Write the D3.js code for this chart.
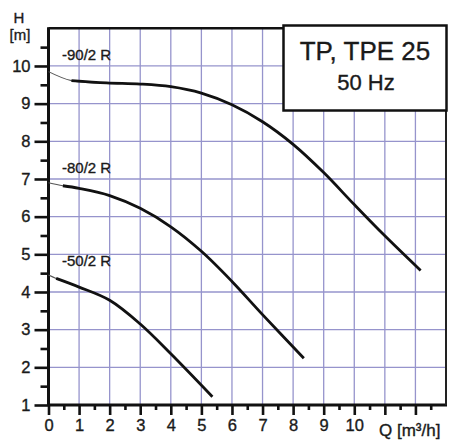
<!DOCTYPE html>
<html><head><meta charset="utf-8">
<script src="https://cdn.jsdelivr.net/npm/d3@7"></script>
<style>body{margin:0;background:#fff}svg{display:block}text{font-family:"Liberation Sans",Arial,sans-serif;fill:#1a1a1a;stroke:#1a1a1a;stroke-width:0.35px}</style>
</head><body><svg id="c" width="449" height="441"></svg>
<script>
// Data
const q90 = [0, 0.75, 1.9, 3.0, 4.0, 5.0, 6.0, 7.0, 8.0, 9.0, 10.0, 11.0, 12.17];
const h90 = [9.85, 9.61, 9.55, 9.52, 9.45, 9.28, 8.97, 8.52, 7.92, 7.17, 6.32, 5.49, 4.57];
const q80 = [0, 0.47, 1.0, 2.0, 3.0, 4.0, 5.0, 6.0, 7.0, 8.35];
const h80 = [6.9, 6.82, 6.75, 6.56, 6.22, 5.73, 5.08, 4.28, 3.4, 2.24];
const q50 = [0, 0.25, 1.0, 2.0, 3.0, 4.0, 5.36];
const h50 = [4.45, 4.36, 4.13, 3.78, 3.15, 2.36, 1.22];
const seriesNames = ["-90/2 R", "-80/2 R", "-50/2 R"];
const xTickLabels = [0,1,2,3,4,5,6,7,8,9,10];
const yTickLabels = [1,2,3,4,5,6,7,8,9,10];
const titleLines = ["TP, TPE 25", "50 Hz"];

const svg = d3.select("#c");
const x = d3.scaleLinear().domain([0, 13]).range([48.5, 446]);
const y = d3.scaleLinear().domain([1, 11]).range([405, 28.3]);
const grid = "#9694cc";

// grid
svg.append("g").selectAll("line").data(d3.range(1, 13)).join("line")
  .attr("x1", d => x(d)).attr("x2", d => x(d)).attr("y1", y(11)).attr("y2", y(1))
  .attr("stroke", grid).attr("stroke-width", 1.3);
svg.append("g").selectAll("line").data(d3.range(2, 11)).join("line")
  .attr("y1", d => y(d)).attr("y2", d => y(d)).attr("x1", x(0)).attr("x2", x(13))
  .attr("stroke", grid).attr("stroke-width", 1.3);

// axes ticks
const yMaj = d3.axisLeft(y).tickValues(d3.range(1, 11)).tickSize(14).tickPadding(4).tickFormat(d => yTickLabels.includes(d) ? d : "");
const yMin = d3.axisLeft(y).tickValues(d3.range(1.5, 11, 1)).tickSize(8).tickFormat("");
const xMaj = d3.axisBottom(x).tickValues(d3.range(0, 13)).tickSize(10).tickPadding(4).tickFormat(d => xTickLabels.includes(d) ? d : "");
const xMin = d3.axisBottom(x).tickValues(d3.range(0.5, 13, 1)).tickSize(5).tickFormat("");
function style(g){ g.select(".domain").remove(); g.selectAll(".tick line").attr("stroke", "#111").attr("stroke-width", 2.6); g.selectAll("text").attr("font-size", 16.5).attr("fill", "#1a1a1a").attr("font-family", "Liberation Sans, Arial, sans-serif"); }
svg.append("g").attr("transform", `translate(${x(0)},0)`).call(yMaj).call(style);
svg.append("g").attr("transform", `translate(${x(0)},0)`).call(yMin).call(style);
svg.append("g").attr("transform", `translate(0,${y(1)})`).call(xMaj).call(style);
svg.append("g").attr("transform", `translate(0,${y(1)})`).call(xMin).call(style);

// frame
svg.append("line").attr("x1", x(0)).attr("x2", x(0)).attr("y1", y(11)-1).attr("y2", y(1)+1).attr("stroke", "#111").attr("stroke-width", 3);
svg.append("line").attr("x1", x(0)).attr("x2", x(13)+1).attr("y1", y(1)).attr("y2", y(1)).attr("stroke", "#111").attr("stroke-width", 3);
svg.append("line").attr("x1", x(0)).attr("x2", x(13)+1).attr("y1", y(11)).attr("y2", y(11)).attr("stroke", "#111").attr("stroke-width", 2.6);
svg.append("line").attr("x1", x(13)).attr("x2", x(13)).attr("y1", y(11)).attr("y2", y(1)).attr("stroke", "#222").attr("stroke-width", 2);

// curves
const line = d3.line().x(d => x(d[0])).y(d => y(d[1])).curve(d3.curveCatmullRom.alpha(0.5));
[[q90, h90], [q80, h80], [q50, h50]].forEach(([qs, hs]) => {
  const pts = qs.map((q, i) => [q, hs[i]]);
  svg.append("path").attr("d", line(pts.slice(0, 3))).attr("fill", "none").attr("stroke", "#555").attr("stroke-width", 1.1);
  svg.append("path").attr("d", line(pts.slice(1))).attr("fill", "none").attr("stroke", "#111").attr("stroke-width", 2.8).attr("stroke-linecap", "butt");
});

// curve labels
const labelH = [10.15, 7.15, 4.7];
seriesNames.forEach((n, i) => {
  svg.append("text").attr("x", 62).attr("y", y(labelH[i])).attr("font-size", 15).text(n);
});

// axis titles
svg.append("text").attr("x", 19).attr("y", 23).attr("text-anchor", "middle").attr("font-size", 15).text("H");
svg.append("text").attr("x", 20).attr("y", 40).attr("text-anchor", "middle").attr("font-size", 15).text("[m]");
svg.append("text").attr("x", 379).attr("y", 436).attr("font-size", 17).text("Q [m³/h]");

// title box
svg.append("rect").attr("x", 283.5).attr("y", 25.5).attr("width", 163).attr("height", 85).attr("fill", "#fff").attr("stroke", "#111").attr("stroke-width", 2.5);
svg.append("text").attr("x", 365).attr("y", 60).attr("text-anchor", "middle").attr("font-size", 26).text(titleLines[0]);
svg.append("text").attr("x", 366).attr("y", 90).attr("text-anchor", "middle").attr("font-size", 22).text(titleLines[1]);
</script></body></html>
